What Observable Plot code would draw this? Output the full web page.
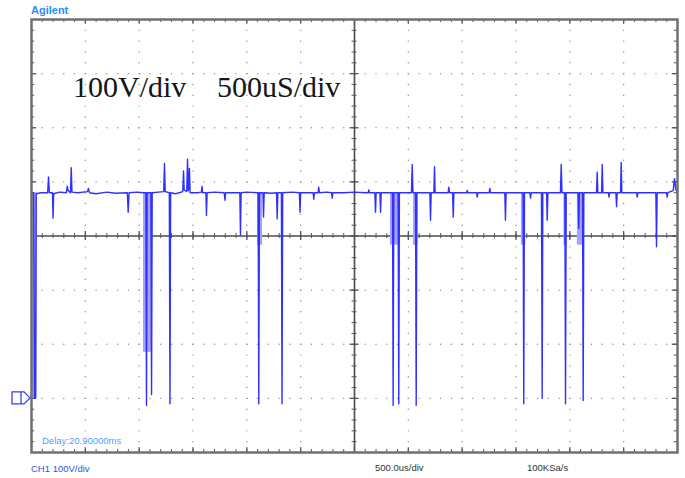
<!DOCTYPE html>
<html><head><meta charset="utf-8">
<script src="https://cdn.jsdelivr.net/npm/d3@7"></script>
<script src="https://cdn.jsdelivr.net/npm/@observablehq/plot@0.6"></script>
<style>body{margin:0;background:#fff}svg{display:block}</style>
</head><body><div id="chart"></div>
<script>
// Trace: time (µs, 500 µs/div) and voltage (V, 100 V/div, ground = 0)
const traceT = [0,20,28,36,44,90,150,158,166,195,200,206,260,325,332,340,362,369,376,430,520,529,538,600,700,780,890,898,906,980,1040,1062,1068,1074,1109,1115,1121,1180,1228,1235,1242,1280,1286,1292,1340,1405,1412,1418,1442,1449,1456,1461,1467,1473,1540,1578,1584,1590,1620,1625,1631,1700,1790,1797,1803,1860,1935,1941,1947,2000,2105,2111,2117,2150,2155,2161,2230,2276,2282,2288,2321,2327,2333,2420,2488,2494,2500,2560,2616,2622,2628,2662,2668,2674,2740,2787,2793,2799,2900,3000,3100,3127,3133,3139,3189,3195,3201,3236,3242,3248,3300,3353,3359,3365,3405,3411,3417,3529,3536,3543,3567,3573,3579,3700,3706,3712,3737,3743,3749,3870,3876,3882,3911,3917,3923,4041,4047,4053,4134,4140,4146,4251,4257,4263,4396,4402,4408,4566,4572,4578,4629,4635,4641,4737,4743,4749,4784,4790,4796,4913,4920,4927,4954,4960,4966,5077,5083,5089,5118,5124,5130,5248,5254,5260,5295,5301,5307,5358,5364,5370,5428,5434,5440,5471,5477,5483,5620,5626,5632,5799,5805,5811,5898,5904,5910,5960,5972,5985,6000];
const traceV = [380,380,0,0,378,380,380,409,380,380,333,378,381,380,392,384,380,426,381,380,382,388,380,378,381,379,380,344,380,381,380,380,-13,380,380,7,380,381,382,434,382,380,-10,380,378,382,420,385,382,442,384,390,425,380,380,381,392,380,380,338,380,381,380,366,380,380,380,302,380,381,380,-10,380,380,335,380,379,380,332,380,380,-10,380,381,380,344,380,380,380,368,380,380,390,380,381,380,370,380,380,381,380,380,385,380,380,344,380,380,344,380,380,380,-13,380,380,-10,380,380,432,380,380,-13,380,380,329,380,380,428,380,380,390,380,380,335,380,380,384,380,380,372,380,380,388,380,380,329,380,380,-10,380,380,370,380,380,0,380,380,329,380,380,432,380,380,-10,380,380,314,380,380,-4,380,380,418,380,380,432,380,380,372,380,380,354,380,380,436,380,380,372,380,380,280,380,380,372,380,384,406,385,382];
// Persistence (lighter) bands around the deep dips
const bandStart = [10,1040,2100,3334,3548,4550,4735,4945,5070];
const bandEnd   = [55,1124,2146,3427,3590,4590,4755,4975,5135];
const bandLow   = [0,85,283,283,283,283,283,283,283];
const bandHigh  = [380,380,380,380,380,380,380,380,380];
// Scope screen texts
const brandLabel = "Agilent";
const scaleLabels = ["100V/div", "500uS/div"];
const delayLabel = "Delay:20.90000ms";
const footerLabels = ["CH1 100V/div", "500.0us/div", "100KSa/s"];

const trace = traceT.map((t, i) => ({t, v: traceV[i]}));
const bands = bandStart.map((s, i) => ({t1: s, t2: bandEnd[i], lo: bandLow[i], hi: bandHigh[i]}));

const minorT = d3.range(100, 6000, 100);
const minorV = d3.range(-80, 700, 20);
const majorT = d3.range(500, 6000, 500);
const majorV = d3.range(0, 700, 100);
const dotsV = majorT.filter(t => t !== 3000).flatMap(t => minorV.map(v => ({t, v})));
const dotsH = majorV.filter(v => v !== 300).flatMap(v => minorT.map(t => ({t, v})));
const tickC = "#555";

const plot = Plot.plot({
  width: 685, height: 478,
  marginLeft: 31, marginRight: 8, marginTop: 19, marginBottom: 26,
  x: {domain: [0, 6000], axis: null},
  y: {domain: [-100, 700], axis: null},
  style: {background: "#fff"},
  marks: [
    Plot.dot(dotsV, {x: "t", y: "v", r: 0.7, fill: "#8a8a8a", stroke: null}),
    Plot.dot(dotsH, {x: "t", y: "v", r: 0.7, fill: "#8a8a8a", stroke: null}),
    Plot.ruleY([300], {stroke: "#4a4a4a", strokeWidth: 1.6}),
    Plot.ruleX([3000], {stroke: "#4a4a4a", strokeWidth: 1.6}),
    Plot.ruleX(minorT, {x: d => d, y1: 295.4, y2: 304.6, stroke: tickC, strokeWidth: 1}),
    Plot.ruleX(majorT, {x: d => d, y1: 291.7, y2: 308.3, stroke: tickC, strokeWidth: 1.3}),
    Plot.ruleY(minorV, {y: d => d, x1: 2977, x2: 3023, stroke: tickC, strokeWidth: 1}),
    Plot.ruleY(majorV, {y: d => d, x1: 2958, x2: 3042, stroke: tickC, strokeWidth: 1.3}),
    // border ticks
    Plot.ruleX(minorT, {x: d => d, y1: 700, y2: 694.5, stroke: tickC}),
    Plot.ruleX(majorT, {x: d => d, y1: 700, y2: 691, stroke: tickC, strokeWidth: 1.3}),
    Plot.ruleX(minorT, {x: d => d, y1: -100, y2: -94.5, stroke: tickC}),
    Plot.ruleX(majorT, {x: d => d, y1: -100, y2: -91, stroke: tickC, strokeWidth: 1.3}),
    Plot.ruleY(minorV, {y: d => d, x1: 0, x2: 30, stroke: tickC}),
    Plot.ruleY(majorV, {y: d => d, x1: 0, x2: 48, stroke: tickC, strokeWidth: 1.3}),
    Plot.ruleY(minorV, {y: d => d, x1: 6000, x2: 5970, stroke: tickC}),
    Plot.ruleY(majorV, {y: d => d, x1: 6000, x2: 5952, stroke: tickC, strokeWidth: 1.3}),
    Plot.rect(bands, {x1: "t1", x2: "t2", y1: "lo", y2: "hi", fill: "#a4a4ff"}),
    Plot.line(trace, {x: "t", y: "v", stroke: "#3030ff", strokeWidth: 1.4}),
    Plot.frame({stroke: "#707070", strokeWidth: 2.5})
  ]
});
document.getElementById("chart").appendChild(plot);

const svg = d3.select(plot);
const yg = plot.scale("y").apply(0);
svg.append("path")
  .attr("d", `M12,${yg - 6}H24L30,${yg}L24,${yg + 6}H12Z`)
  .attr("fill", "#fff").attr("stroke", "#3a3aff").attr("stroke-width", 1.3);
svg.append("path").attr("d", `M21,${yg - 6}V${yg + 6}`).attr("stroke", "#3a3aff").attr("stroke-width", 1.3);

function txt(x, y, s, size, fill, family, weight) {
  svg.append("text").attr("x", x).attr("y", y).text(s)
    .attr("text-anchor", "start")
    .attr("font-size", size).attr("fill", fill)
    .attr("font-family", family).attr("font-weight", weight || "normal");
}
txt(31, 14, brandLabel, 11, "#2a8cff", "Liberation Sans, Arial, sans-serif", "bold");
txt(73, 97, scaleLabels[0], 30, "#151515", "Liberation Serif, Times New Roman, serif");
txt(217, 97, scaleLabels[1], 30, "#151515", "Liberation Serif, Times New Roman, serif");
txt(42, 444, delayLabel, 9.5, "#4d9fff", "Liberation Sans, Arial, sans-serif");
txt(31, 472, footerLabels[0], 9.5, "#2f55dd", "Liberation Sans, Arial, sans-serif");
txt(375, 471, footerLabels[1], 9.5, "#333", "Liberation Sans, Arial, sans-serif");
txt(527, 471, footerLabels[2], 9.5, "#333", "Liberation Sans, Arial, sans-serif");
</script></body></html>
